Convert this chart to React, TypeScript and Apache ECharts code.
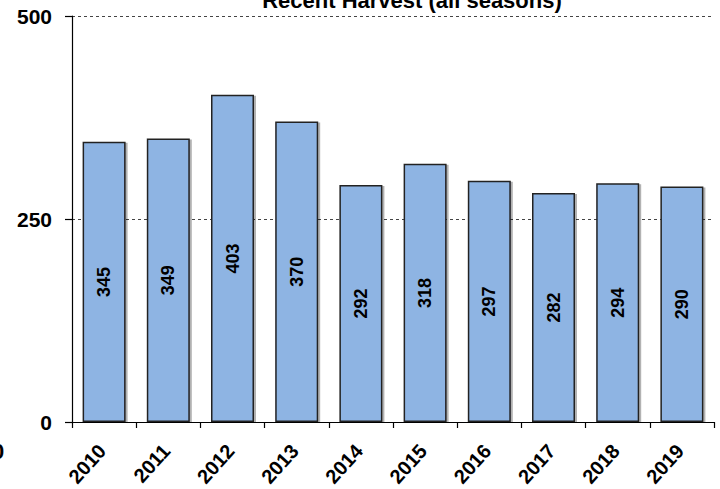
import React, { useEffect, useRef } from "react";
import * as echarts from "echarts";

const years = ["2010", "2011", "2012", "2013", "2014", "2015", "2016", "2017", "2018", "2019"];
const harvest = [345, 349, 403, 370, 292, 318, 297, 282, 294, 290];
const yTicks = { min: 0, max: 500, interval: 250 };
const titleText = "Recent Harvest (all seasons)";

const FONT = "'Liberation Sans', Arial, sans-serif";

export default function App() {
  const ref = useRef<HTMLDivElement>(null);
  useEffect(() => {
    if (!ref.current) return;
    const chart = echarts.init(ref.current, undefined, { renderer: "svg" });
    chart.setOption({
      animation: false,
      backgroundColor: "#ffffff",
      title: {
        text: titleText,
        left: 412,
        textAlign: "center",
        top: -11,
        padding: 0,
        textStyle: { fontFamily: FONT, fontWeight: "bold", fontSize: 22, color: "#000" },
      },
      grid: { left: 72, right: 6, top: 16, bottom: 67, containLabel: false, outerBoundsMode: "none" },
      xAxis: {
        type: "category",
        data: years,
        axisLine: { lineStyle: { color: "#000", width: 1.2 } },
        axisTick: { show: true, alignWithLabel: false, length: 6, lineStyle: { color: "#000", width: 1.2 } },
        axisLabel: {
          rotate: 48,
          margin: 23,
          interval: 0,
          fontFamily: FONT,
          fontWeight: "bold",
          fontSize: 20,
          color: "#000",
          padding: [0, 3, 0, 0],
        },
        splitLine: { show: false },
      },
      yAxis: {
        type: "value",
        min: yTicks.min,
        max: yTicks.max,
        interval: yTicks.interval,
        axisLine: { show: true, lineStyle: { color: "#000", width: 1.2 } },
        axisTick: { show: true, length: 7, lineStyle: { color: "#000", width: 1.2 } },
        axisLabel: {
          margin: 20,
          fontFamily: FONT,
          fontWeight: "bold",
          fontSize: 21,
          color: "#000",
        },
        splitLine: {
          show: true,
          lineStyle: { color: "#444", type: [3, 3], width: 1 },
        },
      },
      series: [
        {
          type: "bar",
          data: harvest,
          barWidth: 43,
          itemStyle: {
            color: "#8EB4E3",
            borderColor: "#222",
            borderWidth: 1.5,
            shadowColor: "rgba(0,0,0,0.3)",
            shadowOffsetX: 2,
            shadowOffsetY: 1,
            shadowBlur: 1,
          },
          label: {
            show: true,
            position: "inside",
            rotate: 90,
            fontFamily: FONT,
            fontWeight: "bold",
            fontSize: 18,
            color: "#000",
          },
        },
      ],
      graphic: [
        {
          type: "text",
          left: -8,
          top: 440,
          style: { text: "0", fontFamily: FONT, fontWeight: "bold", fontSize: 22, fill: "#000" },
        },
      ],
    });
    return () => chart.dispose();
  }, []);
  return <div ref={ref} style={{ width: 720, height: 489, position: "absolute", left: 0, top: 0 }} />;
}
